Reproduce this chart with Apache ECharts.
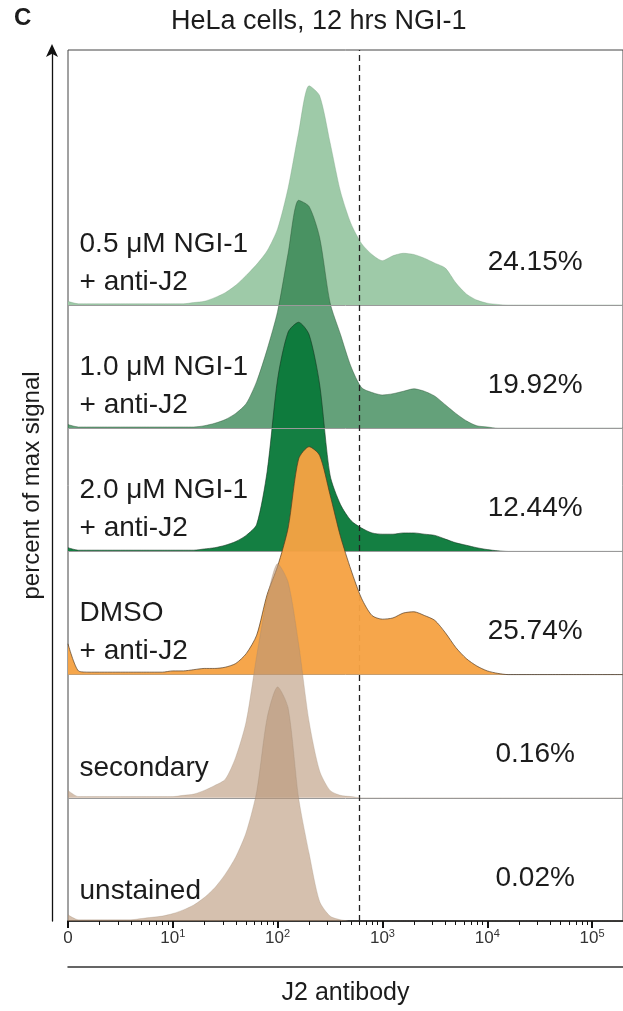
<!DOCTYPE html>
<html>
<head>
<meta charset="utf-8">
<script src="https://cdn.jsdelivr.net/npm/echarts@6/dist/echarts.min.js"></script>
<style>
html,body{margin:0;padding:0;background:#fff;}
#chart{width:623px;height:1011px;}
</style>
</head>
<body>
<div id="chart"></div>
<script>
// ---- data ----
const xDecades = [0,0.1,0.2,0.3,0.4,0.5,0.6,0.7,0.8,0.9,1.0,1.1,1.2,1.3,1.4,1.5,1.6,1.7,1.8,1.9,2.0,2.1,2.2,2.3,2.4,2.5,2.6,2.7,2.8,2.9,3.0,3.1,3.2,3.3,3.4,3.5,3.6,3.7,3.8,3.9,4.0,4.1,4.2,4.3,4.4,4.5,4.6,4.7,4.8,4.9,5.0,5.1,5.2,5.3];

const rowNames = ['0.5 μM NGI-1\n+ anti-J2','1.0 μM NGI-1\n+ anti-J2','2.0 μM NGI-1\n+ anti-J2','DMSO\n+ anti-J2','secondary','unstained'];
const rowPercents = ['24.15%','19.92%','12.44%','25.74%','0.16%','0.02%'];

const h05 = [0.03,0.01,0.01,0.01,0.01,0.01,0.01,0.01,0.01,0.01,0.01,0.01,0.02,0.03,0.06,0.10,0.16,0.24,0.33,0.44,0.62,0.95,1.40,1.78,1.70,1.32,0.92,0.66,0.50,0.41,0.36,0.40,0.42,0.41,0.38,0.34,0.30,0.18,0.09,0.04,0.015,0.005,0,0,0,0,0,0,0,0,0,0,0,0];
const h10 = [0.03,0.01,0.01,0.01,0.01,0.01,0.01,0.01,0.01,0.01,0.01,0.01,0.01,0.02,0.04,0.07,0.12,0.20,0.38,0.64,0.95,1.42,1.85,1.80,1.55,1.02,0.76,0.50,0.33,0.29,0.27,0.28,0.30,0.32,0.30,0.26,0.19,0.12,0.06,0.02,0.01,0,0,0,0,0,0,0,0,0,0,0,0,0];
const h20 = [0.03,0.01,0.01,0.01,0.01,0.01,0.01,0.01,0.01,0.01,0.01,0.01,0.01,0.02,0.03,0.05,0.08,0.13,0.22,0.65,1.40,1.78,1.86,1.76,1.36,0.62,0.38,0.25,0.19,0.15,0.14,0.14,0.15,0.15,0.14,0.13,0.10,0.07,0.05,0.03,0.015,0.005,0,0,0,0,0,0,0,0,0,0,0,0];
const hDMSO = [0.25,0.03,0.02,0.02,0.02,0.02,0.02,0.02,0.02,0.02,0.03,0.03,0.04,0.05,0.05,0.06,0.09,0.17,0.32,0.65,0.88,1.19,1.75,1.85,1.78,1.46,1.12,0.85,0.62,0.48,0.45,0.46,0.50,0.51,0.48,0.44,0.34,0.22,0.13,0.07,0.03,0.01,0,0,0,0,0,0,0,0,0,0,0,0];
const hSecondary = [0.06,0.01,0.01,0.01,0.01,0.01,0.01,0.01,0.01,0.01,0.01,0.02,0.03,0.06,0.10,0.15,0.33,0.62,1.15,1.62,1.90,1.75,1.25,0.62,0.22,0.06,0.02,0.01,0,0,0,0,0,0,0,0,0,0,0,0,0,0,0,0,0,0,0,0,0,0,0,0,0,0];
const hUnstained = [0.05,0.01,0.01,0.01,0.01,0.01,0.01,0.02,0.03,0.04,0.06,0.09,0.13,0.19,0.27,0.38,0.52,0.72,1.05,1.65,1.90,1.73,1.00,0.55,0.16,0.04,0.01,0,0,0,0,0,0,0,0,0,0,0,0,0,0,0,0,0,0,0,0,0,0,0,0,0,0,0];

const gateDecade = 2.78;                 // dashed gate line position (decades)
const majorTickValues = [0,1,2,3,4,5];
const tickLabels = ['{n|0}','{n|10}{s|1}','{n|10}{s|2}','{n|10}{s|3}','{n|10}{s|4}','{n|10}{s|5}'];
const minorMultipliers = [2,3,4,5,6,7,8,9];

// ---- build ----
const heights = [h05,h10,h20,hDMSO,hSecondary,hUnstained];
const nRows = heights.length;
const XMAX = 5.295;
const YMAX = 7.07;
const FONT = '"Liberation Sans", Arial, Helvetica, sans-serif';
const TXT = '#1c1c1c';

const fills = [
  {color:'rgb(158,202,168)', opacity:1},
  {color:'rgb(40,125,70)', opacity:0.72},
  {color:'rgb(10,122,58)', opacity:0.96},
  {color:'rgb(246,162,68)', opacity:0.96},
  {color:'rgb(185,150,120)', opacity:0.6},
  {color:'rgb(185,150,120)', opacity:0.6}
];
const outlines = [
  {color:'rgba(120,160,130,0.6)', width:0.6},
  {color:'rgba(40,80,50,0.6)', width:0.7},
  {color:'rgba(20,50,30,0.8)', width:0.7},
  {color:'rgba(80,55,30,0.85)', width:0.8},
  {color:'rgba(150,130,110,0.5)', width:0.5},
  {color:'rgba(150,130,110,0.5)', width:0.5}
];

const minorTicks = [];
for (let k = 0; k < 6; k++) {
  minorMultipliers.forEach(m => {
    const v = k + Math.log10(m);
    if (v < XMAX) minorTicks.push(v);
  });
}

const series = [];
heights.forEach((h, i) => {
  const base = nRows - 1 - i;
  series.push({
    type: 'line',
    name: rowNames[i],
    data: xDecades.map((x, j) => [x, base + h[j]]),
    smooth: 0.25,
    showSymbol: false,
    symbol: 'none',
    lineStyle: outlines[i],
    areaStyle: {origin: base, color: fills[i].color, opacity: fills[i].opacity},
    z: 2 + i,
    silent: true,
    markLine: {
      silent: true,
      symbol: 'none',
      label: {show: false},
      lineStyle: {color: '#9a9a9a', width: 1, type: 'solid'},
      data: base > 0 ? [{yAxis: base}] : []
    }
  });
});

// gate line
series.push({
  type: 'line', data: [], silent: true, z: 20,
  markLine: {
    silent: true, symbol: 'none', label: {show: false},
    lineStyle: {color: '#222', width: 1.3, type: [6, 4]},
    data: [{xAxis: gateDecade}]
  }
});

// row labels
series.push({
  type: 'scatter', silent: true, z: 30, symbolSize: 0,
  itemStyle: {opacity: 1},
  data: rowNames.map((n, i) => {
    const base = nRows - 1 - i;
    const lines = n.split('\n').length;
    return {value: [0.11, base + (lines === 2 ? 0.34 : 0.24)], name: n};
  }),
  label: {
    show: true, position: 'inside', align: 'left', verticalAlign: 'middle',
    formatter: p => p.name, fontSize: 28, lineHeight: 38, color: TXT, opacity: 1, fontFamily: FONT
  }
});
// percentages
series.push({
  type: 'scatter', silent: true, z: 30, symbolSize: 0,
  itemStyle: {opacity: 1},
  data: rowPercents.map((t, i) => {
    const base = nRows - 1 - i;
    return {value: [4.457, base + 0.35], name: t};
  }),
  label: {
    show: true, position: 'inside', align: 'center', verticalAlign: 'middle',
    formatter: p => p.name, fontSize: 28, color: TXT, opacity: 1, fontFamily: FONT
  }
});

const option = {
  animation: false,
  backgroundColor: '#fff',
  textStyle: {fontFamily: FONT},
  title: [
    {text: 'C', left: 9, top: 1, textStyle: {fontSize: 24, fontWeight: 'bold', color: TXT, fontFamily: FONT}},
    {text: 'HeLa cells, 12 hrs NGI-1', left: 166, top: 3, textStyle: {fontSize: 27, fontWeight: 'normal', color: TXT, fontFamily: FONT}}
  ],
  grid: {left: 68, right: -1, top: 50, bottom: 83, show: true, borderColor: '#444', borderWidth: 1, containLabel: false},
  xAxis: [
    {
      type: 'value', min: 0, max: XMAX, position: 'bottom',
      axisLine: {show: true, onZero: false, lineStyle: {color: '#111', width: 1.5}},
      axisTick: {show: true, customValues: majorTickValues, length: 7, lineStyle: {color: '#111', width: 2}},
      axisLabel: {
        customValues: majorTickValues, margin: 7, color: '#333',
        formatter: v => tickLabels[Math.round(v)] || '',
        rich: {
          n: {fontSize: 17, lineHeight: 20, color: '#333', fontFamily: FONT},
          s: {fontSize: 11, lineHeight: 11, verticalAlign: 'top', color: '#333', fontFamily: FONT}
        }
      },
      splitLine: {show: false},
      name: 'J2 antibody', nameLocation: 'middle', nameGap: 60,
      nameTextStyle: {fontSize: 25, color: TXT, fontFamily: FONT}
    },
    {
      type: 'value', min: 0, max: XMAX, position: 'bottom',
      axisLine: {show: false, onZero: false},
      axisTick: {show: true, customValues: minorTicks, length: 4, lineStyle: {color: '#111', width: 1}},
      axisLabel: {show: false}, splitLine: {show: false}
    },
    {
      type: 'value', min: 0, max: XMAX, position: 'bottom', offset: 46,
      axisLine: {show: true, onZero: false, lineStyle: {color: '#333', width: 1.5}},
      axisTick: {show: false}, axisLabel: {show: false}, splitLine: {show: false}
    }
  ],
  yAxis: [{
    type: 'value', min: 0, max: YMAX, offset: 16,
    axisLine: {show: true, onZero: false, symbol: ['none', 'arrow'], symbolSize: [9, 13], symbolOffset: [0, 6], lineStyle: {color: '#111', width: 1.3}},
    axisTick: {show: false}, axisLabel: {show: false}, splitLine: {show: false},
    name: 'percent of max signal', nameLocation: 'middle', nameGap: 8,
    nameTextStyle: {fontSize: 24, color: TXT, fontFamily: FONT}
  }],
  series: series
};

const chart = echarts.init(document.getElementById('chart'), null, {renderer: 'canvas'});
chart.setOption(option);
</script>
</body>
</html>
